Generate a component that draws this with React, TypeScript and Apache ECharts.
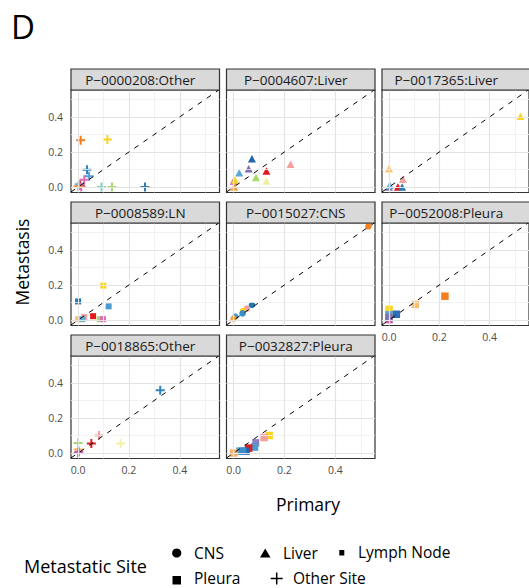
import React, { useEffect, useRef } from "react";
import * as echarts from "echarts";

// ---------- data ----------
const panelNames = [
  "P\u22120000208:Other",
  "P\u22120004607:Liver",
  "P\u22120017365:Liver",
  "P\u22120008589:LN",
  "P\u22120015027:CNS",
  "P\u22120052008:Pleura",
  "P\u22120018865:Other",
  "P\u22120032827:Pleura",
];
const panelSites = ["Other Site", "Liver", "Liver", "Lymph Node", "CNS", "Pleura", "Other Site", "Pleura"];

const p0000208Primary = [0.01, 0.115, 0.035, 0.043, 0.024, 0.092, 0.133, 0.263, 0.008, 0.004, 0.012, 0.0];
const p0000208Meta = [0.267, 0.271, 0.099, 0.061, 0.042, 0.0, 0.0, 0.0, 0.01, 0.016, 0.0, 0.004];
const p0000208Colors = ["#F47D20", "#F9D423", "#2B83BA", "#4BA3D8", "#E26CB4", "#80CDC1", "#A6D96A", "#2C7BB6", "#E31A1C", "#6BAED6", "#E26CB4", "#F59A3C"];

const p0004607Primary = [0.072, 0.059, 0.022, 0.129, 0.224, 0.088, 0.129, 0.0, 0.005, 0.002];
const p0004607Meta = [0.162, 0.105, 0.082, 0.091, 0.13, 0.054, 0.034, 0.034, 0.04, 0.0];
const p0004607Colors = ["#2166AC", "#7B6FB0", "#5AAAD8", "#E31A1C", "#F4A09C", "#A6D96A", "#EEF0A0", "#D558B0", "#F9D423", "#F5A040"];

const p0017365Primary = [0.522, 0.0, 0.055, 0.0, 0.035, 0.052, 0.003];
const p0017365Meta = [0.404, 0.105, 0.044, 0.0, 0.0, 0.0, 0.01];
const p0017365Colors = ["#F9D423", "#FDBF6F", "#F4A09C", "#8073AC", "#E31A1C", "#2C7BB6", "#6BAED6"];

const p0008589Primary = [0.099, 0.0, 0.12, 0.059, 0.024, 0.085, 0.098, 0.0, 0.017];
const p0008589Meta = [0.196, 0.106, 0.078, 0.022, 0.018, 0.005, 0.005, 0.005, 0.005];
const p0008589Colors = ["#F9D423", "#2171B5", "#4A9BD4", "#E31A1C", "#F4A09C", "#A6D96A", "#DA70B8", "#FDBF6F", "#6BAED6"];

const p0015027Primary = [0.53, 0.072, 0.052, 0.037, 0.035, 0.007, 0.0];
const p0015027Meta = [0.534, 0.086, 0.065, 0.052, 0.038, 0.02, 0.008];
const p0015027Colors = ["#F58220", "#1F78B4", "#F4A09C", "#F9D423", "#3C8DC8", "#4A9BD4", "#F5A040"];

const p0052008Primary = [0.222, 0.104, 0.0, 0.029, 0.0, 0.0, 0.0];
const p0052008Meta = [0.136, 0.089, 0.061, 0.033, 0.03, 0.003, 0.015];
const p0052008Colors = ["#F07F22", "#FDBF6F", "#F9D423", "#2C6FB7", "#5AA0D8", "#C8579E", "#8073AC"];

const p0018865Primary = [0.323, 0.082, 0.052, 0.167, 0.0, 0.0, 0.0, 0.003];
const p0018865Meta = [0.358, 0.1, 0.054, 0.054, 0.057, 0.02, 0.0, 0.008];
const p0018865Colors = ["#3182BD", "#F4A09C", "#E31A1C", "#F2F2A8", "#A6D96A", "#FDB35A", "#8073AC", "#D558B0"];

const p0032827Primary = [0.14, 0.12, 0.088, 0.082, 0.059, 0.049, 0.024, 0.0, 0.035];
const p0032827Meta = [0.1, 0.088, 0.058, 0.034, 0.028, 0.011, 0.011, 0.0, 0.011];
const p0032827Colors = ["#F9D423", "#F4A09C", "#8C7FC0", "#4A9BD4", "#E31A1C", "#2166AC", "#5AAAD8", "#F5B070", "#3C8DC8"];

const panelPrimary = [p0000208Primary, p0004607Primary, p0017365Primary, p0008589Primary, p0015027Primary, p0052008Primary, p0018865Primary, p0032827Primary];
const panelMeta = [p0000208Meta, p0004607Meta, p0017365Meta, p0008589Meta, p0015027Meta, p0052008Meta, p0018865Meta, p0032827Meta];
const panelColors = [p0000208Colors, p0004607Colors, p0017365Colors, p0008589Colors, p0015027Colors, p0052008Colors, p0018865Colors, p0032827Colors];

const majorTicks = [0, 0.2, 0.4];
const minorTicks = [0.1, 0.3, 0.5];
const siteNames = ["CNS", "Liver", "Lymph Node", "Pleura", "Other Site"];

// ---------- layout / style ----------
const FONT = "'Open Sans', sans-serif";
const X_MIN = -0.028;
const X_MAX = 0.556;
const Y_MIN = -0.031;
const Y_MAX = 0.553;
const COL_LEFT = [71, 226.5, 382];
const ROW_TOP = [90, 223, 356];
const PW = 148.5;
const PH = 102.5;
const STRIP_H = 21;
const STRIP_TEXT_SHIFT = [-5, -5, -10];

const PLUS_PATH = "path://M3.9,0H6.1V3.9H10V6.1H6.1V10H3.9V6.1H0V3.9H3.9Z";
const siteSymbol: Record<string, { symbol: string; size: any }> = {
  CNS: { symbol: "circle", size: 6.5 },
  Liver: { symbol: "triangle", size: [8, 7.5] },
  "Lymph Node": { symbol: "rect", size: 6 },
  Pleura: { symbol: "rect", size: 7.5 },
  "Other Site": { symbol: PLUS_PATH, size: 9 },
};

function buildOption() {
  const grids: any[] = [];
  const xAxes: any[] = [];
  const yAxes: any[] = [];
  const series: any[] = [];
  const graphics: any[] = [];

  panelNames.forEach((name, i) => {
    const row = Math.floor(i / 3);
    const col = i % 3;
    const left = COL_LEFT[col];
    const top = ROW_TOP[row];
    const showX = i >= 5;
    const showY = col === 0;

    grids.push({
      left,
      top,
      width: PW,
      height: PH,
      show: true,
      backgroundColor: "#ffffff",
      borderColor: "#333333",
      borderWidth: 1.2,
      containLabel: false,
    });
    xAxes.push({
      gridIndex: i,
      type: "value",
      min: X_MIN,
      max: X_MAX,
      axisLine: { show: false },
      axisTick: { show: false },
      splitLine: { show: false },
      axisLabel: {
        show: showX,
        customValues: majorTicks,
        formatter: (v: number) => v.toFixed(1),
        color: "#4d4d4d",
        fontSize: 10.5,
        fontFamily: FONT,
        margin: 6,
      },
    });
    yAxes.push({
      gridIndex: i,
      type: "value",
      min: Y_MIN,
      max: Y_MAX,
      axisLine: { show: false },
      axisTick: { show: false },
      splitLine: { show: false },
      axisLabel: {
        show: showY,
        customValues: majorTicks,
        formatter: (v: number) => v.toFixed(1),
        color: "#4d4d4d",
        fontSize: 10.5,
        fontFamily: FONT,
        margin: 8,
      },
    });

    const majorStyle = { color: "#e3e3e3", width: 1.2, type: "solid" };
    const minorStyle = { color: "#efefef", width: 0.8, type: "solid" };
    const gridLines: any[] = [];
    minorTicks.forEach((v) => {
      gridLines.push({ xAxis: v, lineStyle: minorStyle });
      gridLines.push({ yAxis: v, lineStyle: minorStyle });
    });
    majorTicks.forEach((v) => {
      gridLines.push({ xAxis: v, lineStyle: majorStyle });
      gridLines.push({ yAxis: v, lineStyle: majorStyle });
    });
    series.push({
      type: "line",
      xAxisIndex: i,
      yAxisIndex: i,
      data: [],
      silent: true,
      z: 1,
      markLine: {
        silent: true,
        symbol: ["none", "none"],
        label: { show: false },
        emphasis: { disabled: true },
        animation: false,
        data: gridLines,
      },
    });

    const site = panelSites[i];
    const sym = siteSymbol[site];
    series.push({
      type: "scatter",
      name: site,
      xAxisIndex: i,
      yAxisIndex: i,
      symbol: sym.symbol,
      symbolSize: sym.size,
      symbolKeepAspect: true,
      z: 3,
      data: panelPrimary[i].map((x, j) => ({
        value: [x, panelMeta[i][j]],
        itemStyle: { color: panelColors[i][j], opacity: 1 },
      })),
    });

    series.push({
      type: "line",
      xAxisIndex: i,
      yAxisIndex: i,
      data: [],
      silent: true,
      z: 4,
      markLine: {
        silent: true,
        symbol: ["none", "none"],
        label: { show: false },
        animation: false,
        lineStyle: { color: "#000000", width: 1, type: [5, 6] },
        data: [[{ coord: [X_MIN, X_MIN] }, { coord: [Y_MAX, Y_MAX] }]],
      },
    });

    graphics.push({
      type: "rect",
      shape: { x: left, y: top - STRIP_H, width: PW, height: STRIP_H },
      style: { fill: "#d9d9d9", stroke: "#333333", lineWidth: 1.2 },
      z: 10,
    });
    graphics.push({
      type: "text",
      x: left + PW / 2 + STRIP_TEXT_SHIFT[col],
      y: top - STRIP_H / 2 + 0.5,
      style: {
        text: name,
        fill: "#1a1a1a",
        fontSize: 13.5,
        fontFamily: FONT,
        align: "center",
        verticalAlign: "middle",
      },
      z: 11,
    });
  });

  // panel label, axis titles
  graphics.push({
    type: "text",
    x: 11,
    y: 26,
    style: { text: "D", fontSize: 33, fontFamily: FONT, fill: "#000", align: "left", verticalAlign: "middle" },
  });
  graphics.push({
    type: "text",
    x: 22,
    y: 262,
    rotation: Math.PI / 2,
    style: { text: "Metastasis", fontSize: 17.5, fontFamily: FONT, fill: "#000", align: "center", verticalAlign: "middle" },
  });
  graphics.push({
    type: "text",
    x: 308,
    y: 504,
    style: { text: "Primary", fontSize: 17.5, fontFamily: FONT, fill: "#000", align: "center", verticalAlign: "middle" },
  });

  // legend
  const legTextStyle = { fontSize: 15.5, fontFamily: FONT, fill: "#000", align: "left", verticalAlign: "middle" };
  graphics.push({
    type: "text",
    x: 24,
    y: 566,
    style: { ...legTextStyle, text: "Metastatic Site", fontSize: 18 },
  });
  graphics.push({ type: "circle", shape: { cx: 176.7, cy: 553, r: 4.6 }, style: { fill: "#000" } });
  graphics.push({ type: "text", x: 194, y: 552.5, style: { ...legTextStyle, text: siteNames[0] } });
  graphics.push({
    type: "polygon",
    shape: { points: [[260, 557.5], [270.5, 557.5], [265.25, 548.5]] },
    style: { fill: "#000" },
  });
  graphics.push({ type: "text", x: 283, y: 552.5, style: { ...legTextStyle, text: siteNames[1] } });
  graphics.push({ type: "rect", shape: { x: 339.3, y: 550, width: 5, height: 5.5 }, style: { fill: "#000" } });
  graphics.push({ type: "text", x: 358, y: 551.5, style: { ...legTextStyle, text: siteNames[2] } });
  graphics.push({ type: "rect", shape: { x: 172.5, y: 576, width: 8.5, height: 8.5 }, style: { fill: "#000" } });
  graphics.push({ type: "text", x: 194, y: 577.5, style: { ...legTextStyle, text: siteNames[3] } });
  graphics.push({ type: "line", shape: { x1: 270.7, y1: 578.5, x2: 282.7, y2: 578.5 }, style: { stroke: "#000", lineWidth: 1.5 } });
  graphics.push({ type: "line", shape: { x1: 276.7, y1: 572.5, x2: 276.7, y2: 584.5 }, style: { stroke: "#000", lineWidth: 1.5 } });
  graphics.push({ type: "text", x: 293, y: 577.5, style: { ...legTextStyle, text: siteNames[4] } });

  return {
    animation: false,
    backgroundColor: "#ffffff",
    grid: grids,
    xAxis: xAxes,
    yAxis: yAxes,
    series,
    graphic: { elements: graphics },
  };
}

export default function App() {
  const ref = useRef<HTMLDivElement>(null);
  useEffect(() => {
    if (!ref.current) return;
    const chart = echarts.init(ref.current, undefined, { renderer: "svg" });
    chart.setOption(buildOption() as any);
    return () => chart.dispose();
  }, []);
  return (
    <div
      ref={ref}
      style={{ position: "absolute", left: 0, top: 0, width: 529, height: 588 }}
    />
  );
}
